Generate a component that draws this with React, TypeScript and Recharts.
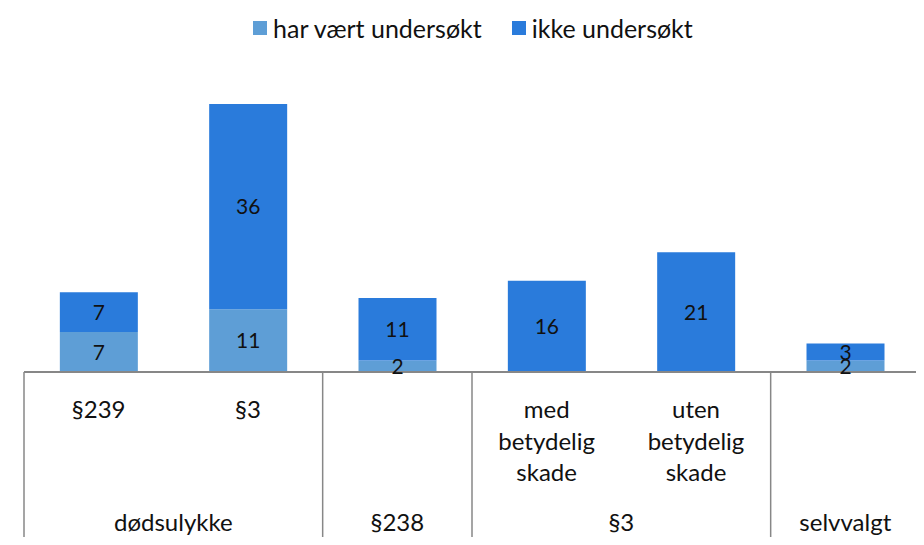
import { BarChart, Bar, XAxis, YAxis, LabelList } from 'recharts'

// kategorier (første nivå) og grupper (andre nivå)
const categories = ['§239', '§3a', '§238', 'med', 'uten', 'selvvalgt']
const subLabels = [['§239'], ['§3'], [], ['med', 'betydelig', 'skade'], ['uten', 'betydelig', 'skade'], []]
const groups = ['dødsulykke', 'dødsulykke', '§238', '§3', '§3', 'selvvalgt']

const undersokt = [7, 11, 2, null, null, 2]
const ikkeUndersokt = [7, 36, 11, 16, 21, 3]

const LIGHT = '#5e9ed6'
const DARK = '#2a7bdb'
const GRID = '#878787'
const FONT = 'Lato, "Noto Sans", sans-serif'

const data = categories.map((c, i) => ({
  name: c,
  undersokt: undersokt[i],
  ikke: ikkeUndersokt[i],
}))

const AxisTick = (props: any) => {
  const { x, y, payload, index } = props
  const half = payload?.offset ?? 74.7
  const lines = subLabels[index] || []
  const g = groups[index]
  const first = index === 0 || groups[index - 1] !== g
  const last = index === categories.length - 1
  let count = 0
  if (first) {
    for (let j = index; j < groups.length && groups[j] === g; j++) count++
  }
  return (
    <g>
      {lines.map((l, k) => (
        <text key={k} x={x} y={y + 38 + k * 31.5} textAnchor="middle" fontSize={24} fill="#111" fontFamily={FONT}>
          {l}
        </text>
      ))}
      {first && (
        <line x1={x - half} x2={x - half} y1={y - 8} y2={y + 180} stroke={GRID} strokeWidth={1.5} />
      )}
      {last && (
        <line x1={x + half} x2={x + half} y1={y - 8} y2={y + 180} stroke={GRID} strokeWidth={1.5} />
      )}
      {first && (
        <text x={x - half + count * half} y={y + 151} textAnchor="middle" fontSize={24} fill="#111" fontFamily={FONT}>
          {g}
        </text>
      )}
    </g>
  )
}

const hideZero = (v: any) => (v ? v : '')

const legendItems = [
  { label: 'har vært undersøkt', color: LIGHT },
  { label: 'ikke undersøkt', color: DARK },
]

export default function App() {
  return (
    <div style={{ position: 'relative', width: 924, height: 545, margin: -8, background: '#fff', fontFamily: FONT }}>
      <div
        style={{
          position: 'absolute',
          top: 13,
          left: 253,
          display: 'flex',
          gap: 30,
          fontSize: 25,
          color: '#111',
          lineHeight: '30px',
        }}
      >
        {legendItems.map((it) => (
          <div key={it.label} style={{ display: 'flex', alignItems: 'center', gap: 6 }}>
            <span style={{ width: 14, height: 14, background: it.color, display: 'inline-block' }} />
            <span>{it.label}</span>
          </div>
        ))}
      </div>
      <BarChart
        width={924}
        height={545}
        data={data}
        margin={{ top: 87, right: 4, left: 24, bottom: 0 }}
        barCategoryGap="24%"
      >
        <XAxis
          dataKey="name"
          interval={0}
          tickLine={false}
          axisLine={{ stroke: GRID, strokeWidth: 2 }}
          tick={<AxisTick />}
          height={173}
        />
        <YAxis hide domain={[0, 50]} />
        <Bar dataKey="undersokt" stackId="a" fill={LIGHT} isAnimationActive={false}>
          <LabelList dataKey="undersokt" position="center" formatter={hideZero} fill="#111" fontSize={21} fontFamily={FONT} />
        </Bar>
        <Bar dataKey="ikke" stackId="a" fill={DARK} isAnimationActive={false}>
          <LabelList dataKey="ikke" position="center" formatter={hideZero} fill="#111" fontSize={21} fontFamily={FONT} />
        </Bar>
      </BarChart>
    </div>
  )
}
